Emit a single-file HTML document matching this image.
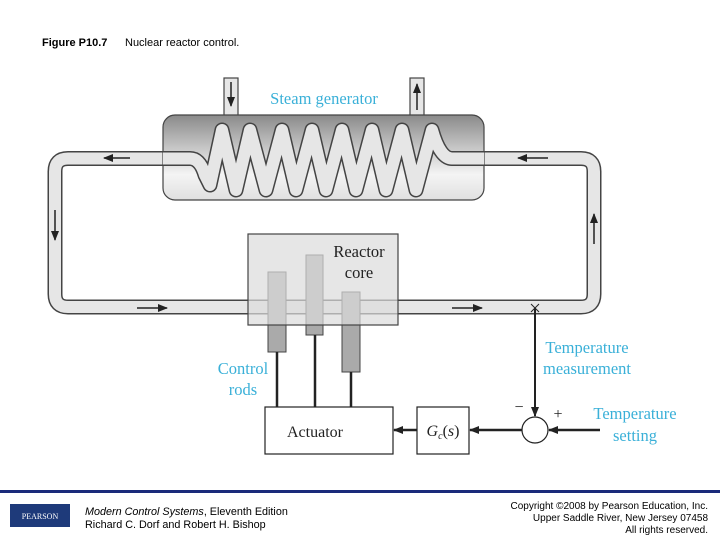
<!DOCTYPE html>
<html><head><style>
html,body{margin:0;padding:0;background:#fff;}
svg{display:block;}
</style></head><body>
<svg width="720" height="540" viewBox="0 0 720 540" xmlns="http://www.w3.org/2000/svg">
<defs>
<linearGradient id="sg" x1="0" y1="0" x2="0" y2="1">
<stop offset="0" stop-color="#8a8a8a"/><stop offset="0.45" stop-color="#d0d0d0"/><stop offset="0.7" stop-color="#f4f4f4"/><stop offset="1" stop-color="#e0e0e0"/>
</linearGradient>
<marker id="ah" markerWidth="10" markerHeight="8" refX="9" refY="4" orient="auto" markerUnits="userSpaceOnUse"><path d="M0,0 L10,4 L0,8 z" fill="#222"/></marker>
</defs>
<text x="42" y="46" font-family="Liberation Sans, sans-serif" font-size="11" fill="#000"><tspan font-weight="bold">Figure P10.7</tspan><tspan x="125">Nuclear reactor control.</tspan></text>

<g>
<rect x="224" y="78" width="14" height="40" fill="#e6e6e6" stroke="#444" stroke-width="1.2"/>
<rect x="410" y="78" width="14" height="40" fill="#e6e6e6" stroke="#444" stroke-width="1.2"/>
<line x1="231" y1="82" x2="231" y2="106" stroke="#222" stroke-width="1.5" marker-end="url(#ah)"/>
<line x1="417" y1="110" x2="417" y2="84" stroke="#222" stroke-width="1.5" marker-end="url(#ah)"/>
</g>
<text x="324" y="104" text-anchor="middle" font-family="Liberation Serif, serif" font-size="16.5" fill="#3ab0d8">Steam generator</text>

<path d="M200,158.5 L68,158.5 Q55,158.5 55,171.5 L55,294 Q55,307 68,307 L581,307 Q594,307 594,294 L594,171.5 Q594,158.5 581,158.5 L450,158.5" fill="none" stroke="#444" stroke-width="15"/>
<path d="M200,158.5 L68,158.5 Q55,158.5 55,171.5 L55,294 Q55,307 68,307 L581,307 Q594,307 594,294 L594,171.5 Q594,158.5 581,158.5 L450,158.5" fill="none" stroke="#e6e6e6" stroke-width="12"/>

<rect x="163" y="115" width="321" height="85" rx="12" fill="url(#sg)" stroke="#444" stroke-width="1.2"/>
<path d="M163,158.5 L190,158.5 Q200,158.5 205,175 L210,185 L222,130 L236,190 L250,130 L266,190 L282,130 L296,190 L312,130 L326,190 L342,130 L356,190 L372,130 L386,190 L402,130 L416,190 L432,130 Q440,158.5 452,158.5 L484,158.5" fill="none" stroke="#444" stroke-width="15" stroke-linejoin="round"/>
<path d="M163,158.5 L190,158.5 Q200,158.5 205,175 L210,185 L222,130 L236,190 L250,130 L266,190 L282,130 L296,190 L312,130 L326,190 L342,130 L356,190 L372,130 L386,190 L402,130 L416,190 L432,130 Q440,158.5 452,158.5 L484,158.5" fill="none" stroke="#e6e6e6" stroke-width="12" stroke-linejoin="round"/>

<line x1="130" y1="158" x2="104" y2="158" stroke="#222" stroke-width="1.5" marker-end="url(#ah)"/>
<line x1="55" y1="210" x2="55" y2="240" stroke="#222" stroke-width="1.5" marker-end="url(#ah)"/>
<line x1="137" y1="308" x2="167" y2="308" stroke="#222" stroke-width="1.5" marker-end="url(#ah)"/>
<line x1="452" y1="308" x2="482" y2="308" stroke="#222" stroke-width="1.5" marker-end="url(#ah)"/>
<line x1="594" y1="244" x2="594" y2="214" stroke="#222" stroke-width="1.5" marker-end="url(#ah)"/>
<line x1="548" y1="158" x2="518" y2="158" stroke="#222" stroke-width="1.5" marker-end="url(#ah)"/>

<rect x="268" y="272" width="18" height="80" fill="#aaa" stroke="#444"/>
<rect x="306" y="255" width="17" height="80" fill="#aaa" stroke="#444"/>
<rect x="342" y="292" width="18" height="80" fill="#aaa" stroke="#444"/>
<rect x="248" y="234" width="150" height="91" fill="#dcdcdc" fill-opacity="0.7" stroke="#444" stroke-width="1.2"/>
<text x="359" y="257" text-anchor="middle" font-family="Liberation Serif, serif" font-size="16.5" fill="#222">Reactor</text>
<text x="359" y="278" text-anchor="middle" font-family="Liberation Serif, serif" font-size="16.5" fill="#222">core</text>

<line x1="277" y1="352" x2="277" y2="407" stroke="#222" stroke-width="2.5"/>
<line x1="315" y1="335" x2="315" y2="407" stroke="#222" stroke-width="2.5"/>
<line x1="351" y1="372" x2="351" y2="407" stroke="#222" stroke-width="2.5"/>

<text x="243" y="374" text-anchor="middle" font-family="Liberation Serif, serif" font-size="16.5" fill="#3ab0d8">Control</text>
<text x="243" y="395" text-anchor="middle" font-family="Liberation Serif, serif" font-size="16.5" fill="#3ab0d8">rods</text>

<rect x="265" y="407" width="128" height="47" fill="#fff" stroke="#222" stroke-width="1.2"/>
<text x="315" y="437" text-anchor="middle" font-family="Liberation Serif, serif" font-size="16" fill="#222">Actuator</text>
<rect x="417" y="407" width="52" height="47" fill="#fff" stroke="#222" stroke-width="1.2"/>
<text x="443" y="436" text-anchor="middle" font-family="Liberation Serif, serif" font-size="16" fill="#222"><tspan font-style="italic">G</tspan><tspan font-style="italic" font-size="10" dy="3">c</tspan><tspan dy="-3">(</tspan><tspan font-style="italic">s</tspan>)</text>
<circle cx="535" cy="430" r="13" fill="#fff" stroke="#222" stroke-width="1.2"/>
<line x1="522" y1="430" x2="470" y2="430" stroke="#222" stroke-width="2.5" marker-end="url(#ah)"/>
<line x1="417" y1="430" x2="394" y2="430" stroke="#222" stroke-width="2.5" marker-end="url(#ah)"/>
<line x1="600" y1="430" x2="549" y2="430" stroke="#222" stroke-width="2.5" marker-end="url(#ah)"/>
<line x1="535" y1="308" x2="535" y2="416" stroke="#222" stroke-width="2" marker-end="url(#ah)"/>
<path d="M531,304 L539,312 M539,304 L531,312" stroke="#222" stroke-width="1"/>
<text x="519" y="412" text-anchor="middle" font-family="Liberation Serif, serif" font-size="16" fill="#222">−</text>
<text x="558" y="419" text-anchor="middle" font-family="Liberation Serif, serif" font-size="16" fill="#222">+</text>
<text x="587" y="353" text-anchor="middle" font-family="Liberation Serif, serif" font-size="16.5" fill="#3ab0d8">Temperature</text>
<text x="587" y="374" text-anchor="middle" font-family="Liberation Serif, serif" font-size="16.5" fill="#3ab0d8">measurement</text>
<text x="635" y="419" text-anchor="middle" font-family="Liberation Serif, serif" font-size="16.5" fill="#3ab0d8">Temperature</text>
<text x="635" y="441" text-anchor="middle" font-family="Liberation Serif, serif" font-size="16.5" fill="#3ab0d8">setting</text>

<rect x="0" y="490" width="720" height="3" fill="#1a2a7a"/>
<rect x="10" y="504" width="60" height="23" fill="#1e3a7a"/>
<text x="40" y="519" text-anchor="middle" font-family="Liberation Serif, serif" font-size="8" fill="#fff">PEARSON</text>
<text x="85" y="515" font-family="Liberation Sans, sans-serif" font-size="10.8" fill="#000"><tspan font-style="italic">Modern Control Systems</tspan>, Eleventh Edition</text>
<text x="85" y="528" font-family="Liberation Sans, sans-serif" font-size="10.8" fill="#000">Richard C. Dorf and Robert H. Bishop</text>
<text x="708" y="509" text-anchor="end" font-family="Liberation Sans, sans-serif" font-size="10" fill="#000">Copyright ©2008 by Pearson Education, Inc.</text>
<text x="708" y="521" text-anchor="end" font-family="Liberation Sans, sans-serif" font-size="10" fill="#000">Upper Saddle River, New Jersey 07458</text>
<text x="708" y="533" text-anchor="end" font-family="Liberation Sans, sans-serif" font-size="10" fill="#000">All rights reserved.</text>
</svg>
</body></html>
